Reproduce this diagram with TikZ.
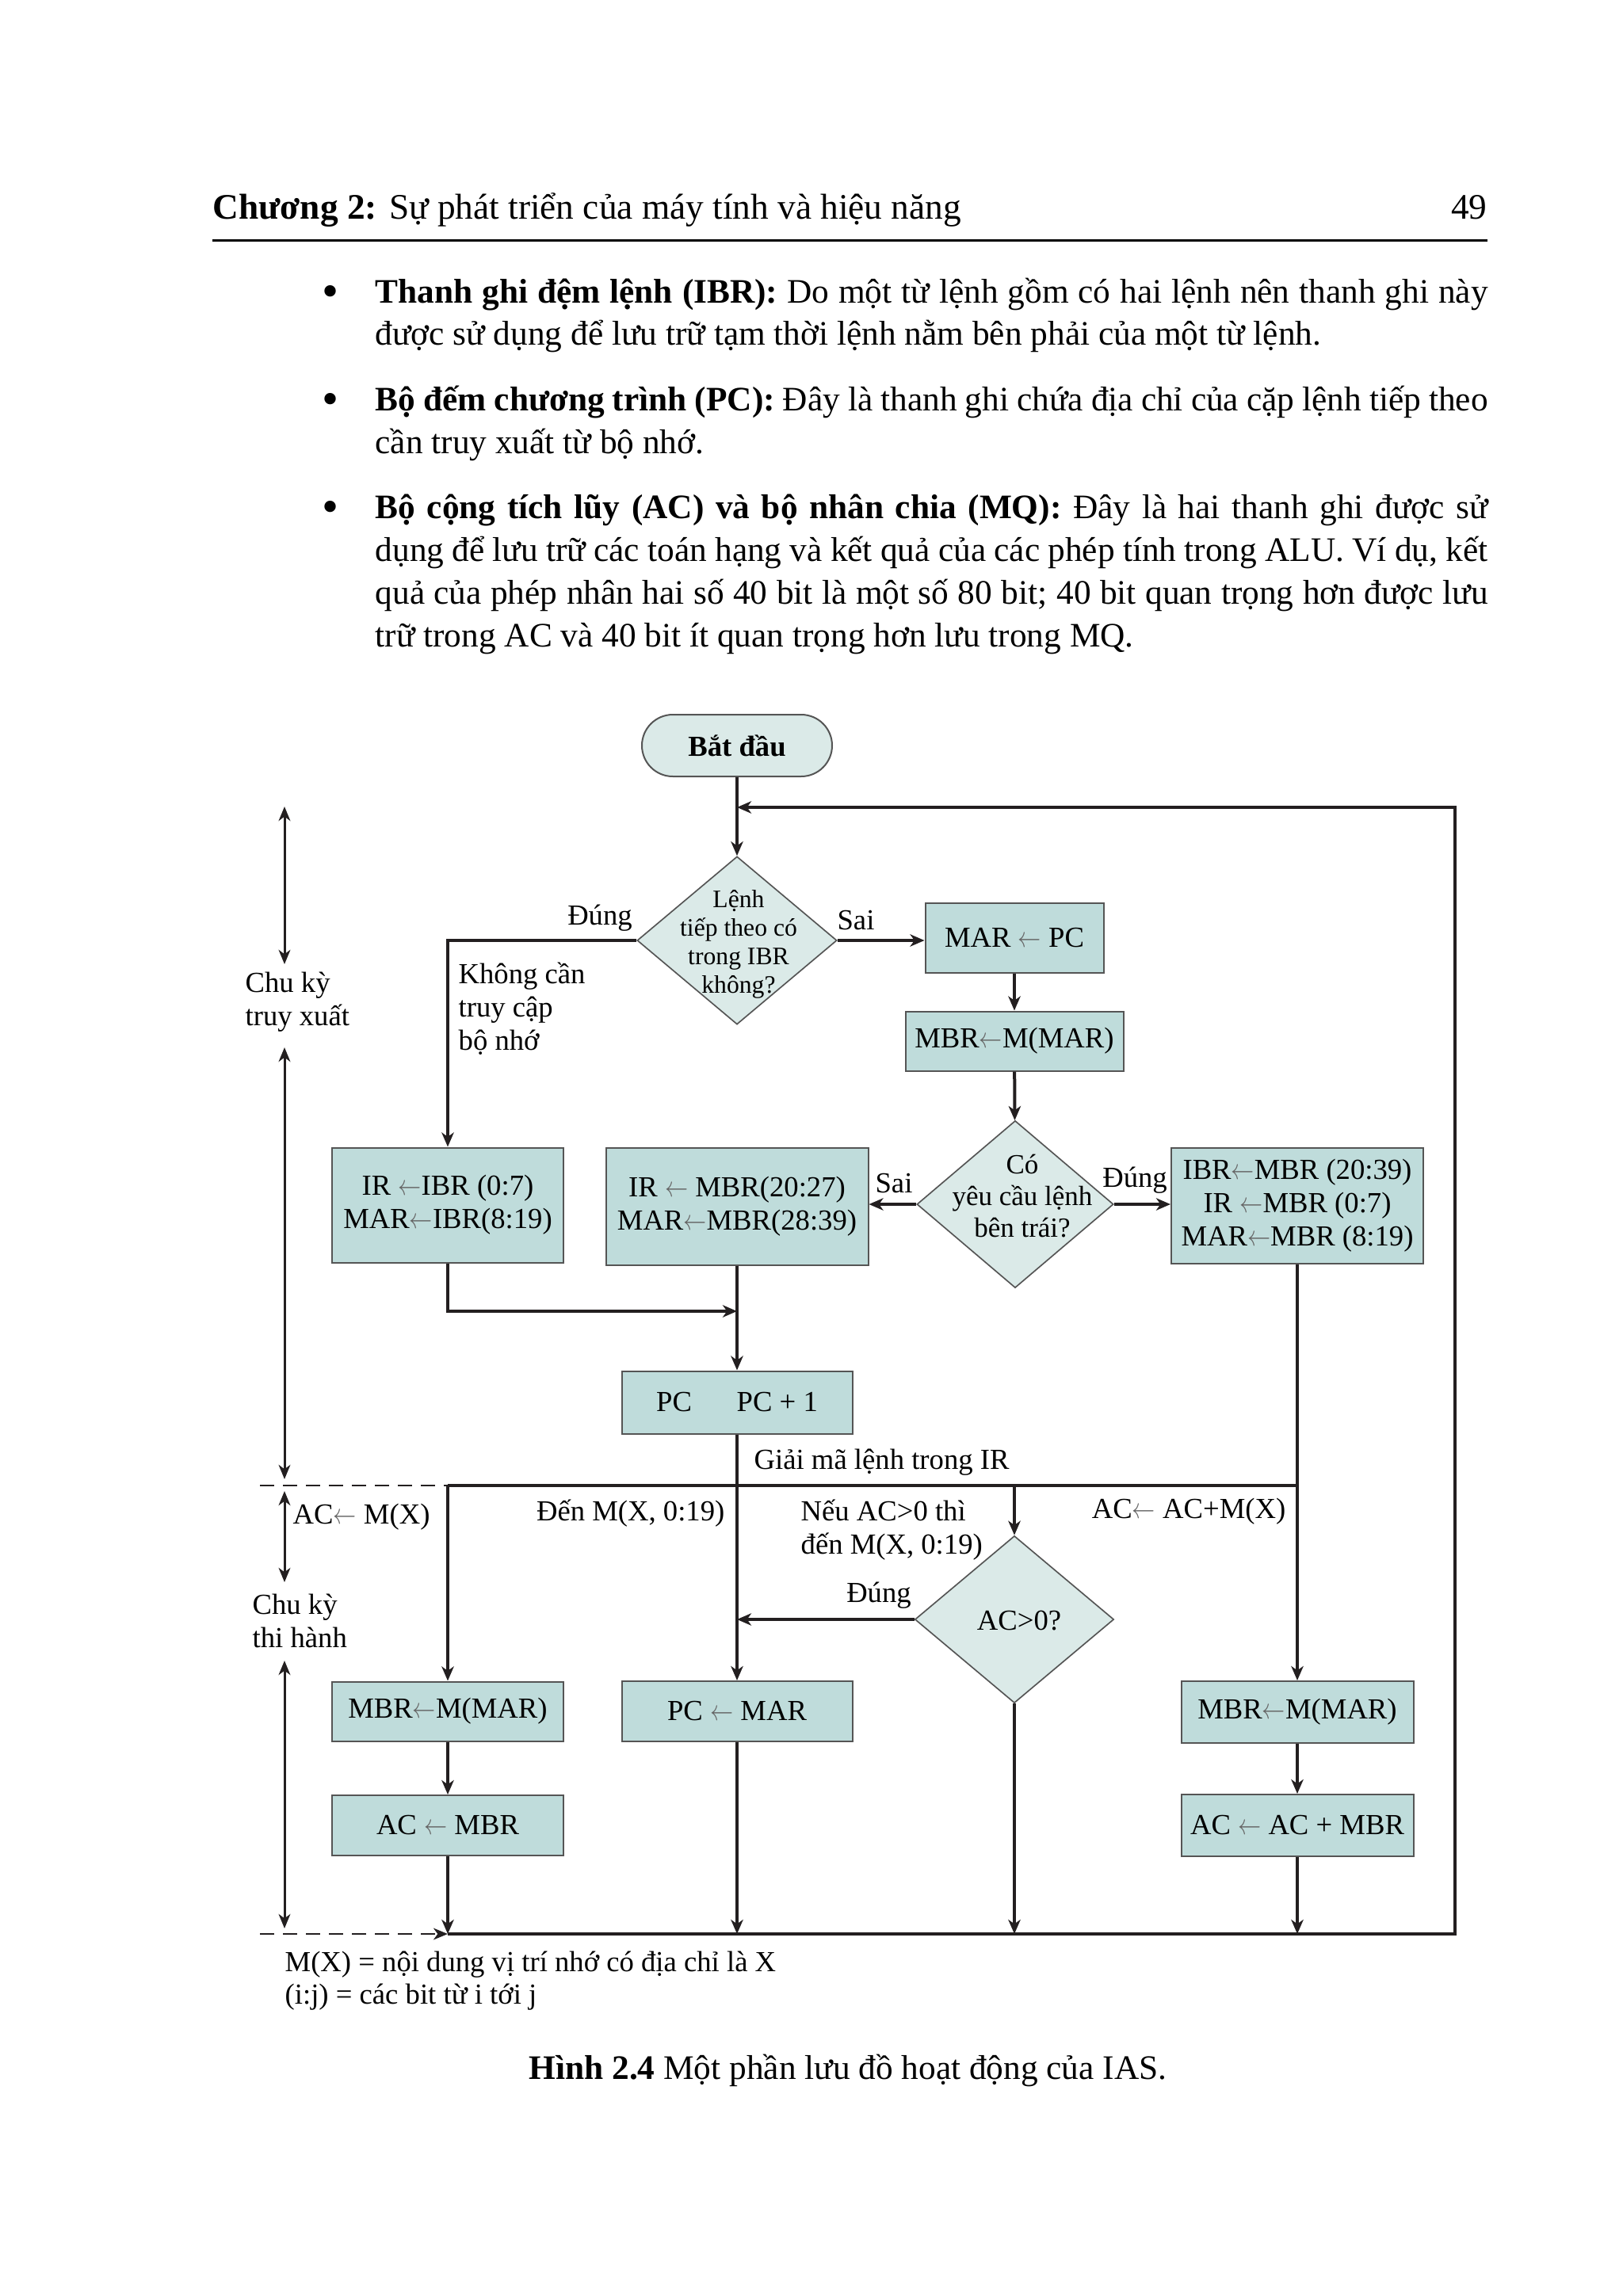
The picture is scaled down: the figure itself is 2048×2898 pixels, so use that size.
\documentclass[tikz,border=0pt]{standalone}
\usepackage{fontspec}
\setmainfont{Liberation Serif}
\usepackage{xcolor}
\usepackage{tikz}
\usetikzlibrary{shapes.geometric,arrows.meta}
\definecolor{boxfill}{RGB}{191,220,219}
\definecolor{diafill}{RGB}{219,234,232}
\definecolor{edge}{RGB}{85,85,85}
\definecolor{ink}{RGB}{35,31,32}
\newcommand{\larr}{{\color{black!60}\scalebox{0.8}[1]{$\leftarrow$}}}

\begin{document}
\begin{tikzpicture}[x=0.3pt,y=-0.3pt,
		txt/.style={font=\fontsize{11}{12.6}\selectfont, inner sep=0pt},
		blk/.style={draw=edge, line width=0.6pt, fill=boxfill, font=\fontsize{11}{12.6}\selectfont, align=center, inner sep=0pt},
		dia/.style={diamond, draw=edge, line width=0.5pt, fill=diafill, inner sep=0pt},
		arr/.style={ink, line width=1.2pt, -{Stealth[length=5.4pt,width=4.6pt,inset=1.6pt]}},
		ln/.style={ink, line width=1.2pt},
		cyc/.style={ink, line width=0.9pt, {Stealth[length=5.4pt,width=4.4pt,inset=1.6pt]}-{Stealth[length=5.4pt,width=4.4pt,inset=1.6pt]}},
		dsh/.style={ink, line width=0.7pt, dash pattern=on 5.4pt off 3.3pt},
		body/.style={font=\fontsize{13}{16.2}\selectfont, inner sep=0pt, anchor=base west},
		dot/.style={font=\fontsize{18}{18}\selectfont, inner sep=0pt}]
		\useasboundingbox (0,0) rectangle (2048,2898);
		
		\node[body, font=\fontsize{13.6}{16.2}\selectfont] (hd) at (268,277) {\textbf{Chương 2:} Sự phát triển của máy tính và hiệu năng};
		\node[body, anchor=base east, font=\fontsize{13.6}{16.2}\selectfont] (pg) at (1877,277) {49};
		\draw[line width=0.9pt] (268,303) -- (1877,303);
		
		\node[dot] (b1) at (417,374) {\textbullet};
		\node[body, text width=421.2pt, align=justify] (p1) at (473,382) {\textbf{Thanh ghi đệm lệnh (IBR):} Do một từ lệnh gồm có hai lệnh nên thanh ghi này\linebreak được sử dụng để lưu trữ tạm thời lệnh nằm bên phải của một từ lệnh.};
		\node[dot] (b2) at (417,510) {\textbullet};
		\node[body, text width=421.2pt, align=justify] (p2) at (473,518) {\textbf{Bộ đếm chương trình (PC):} Đây là thanh ghi chứa địa chỉ của cặp lệnh tiếp theo\linebreak cần truy xuất từ bộ nhớ.};
		\node[dot] (b3) at (417,646) {\textbullet};
		\node[body, text width=421.2pt, align=justify] (p3) at (473,654) {\textbf{Bộ cộng tích lũy (AC) và bộ nhân chia (MQ):} Đây là hai thanh ghi được sử\linebreak dụng để lưu trữ các toán hạng và kết quả của các phép tính trong ALU. Ví dụ, kết\linebreak quả của phép nhân hai số 40 bit là một số 80 bit; 40 bit quan trọng hơn được lưu\linebreak trữ trong AC và 40 bit ít quan trọng hơn lưu trong MQ.};
		
		\node[blk, rounded corners=11.7pt, fill=diafill, minimum width=72pt, minimum height=23.4pt, font=\bfseries\fontsize{11}{12.6}\selectfont] (start) at (930,941) {Bắt đầu};
		\node[dia, minimum width=75.6pt, minimum height=63.6pt] (d1) at (930,1187) {};
		\node[txt, font=\fontsize{9.5}{10.8}\selectfont, align=center] (d1t) at (932,1192) {Lệnh\\tiếp theo có\\trong IBR\\không?};
		\node[blk, minimum width=67.5pt, minimum height=26.4pt] (mar) at (1280,1184) {MAR \larr{} PC};
		\node[blk, minimum width=82.5pt, minimum height=22.5pt] (mbra) at (1280,1314) {MBR\larr M(MAR)};
		\node[dia, minimum width=74.4pt, minimum height=63.3pt] (d2) at (1281,1520) {};
		\node[txt, font=\fontsize{10.5}{12}\selectfont, align=center] (d2t) at (1290,1510) {Có\\yêu cầu lệnh\\bên trái?};
		\node[blk, minimum width=87.6pt, minimum height=43.5pt] (iri) at (565,1521) {IR \larr IBR (0:7)\\MAR\larr IBR(8:19)};
		\node[blk, minimum width=99.3pt, minimum height=44.4pt] (irm) at (930,1523) {IR \larr{} MBR(20:27)\\MAR\larr MBR(28:39)};
		\node[blk, minimum width=95.4pt, minimum height=43.8pt] (ibr) at (1637,1522) {IBR\larr MBR (20:39)\\IR \larr MBR (0:7)\\MAR\larr MBR (8:19)};
		\node[blk, minimum width=87.3pt, minimum height=23.7pt] (pc) at (930,1770) {PC\hspace{17pt}PC + 1};
		\node[dia, minimum width=75.3pt, minimum height=63.3pt] (d3) at (1280,2044) {};
		\node[txt] (d3t) at (1286,2046) {AC>0?};
		\node[blk, minimum width=87.6pt, minimum height=22.5pt] (mbrb) at (565,2160) {MBR\larr M(MAR)};
		\node[blk, minimum width=87.6pt, minimum height=22.8pt] (acb) at (565,2304) {AC \larr{} MBR};
		\node[blk, minimum width=87.3pt, minimum height=22.8pt] (pcm) at (930,2160) {PC \larr{} MAR};
		\node[blk, minimum width=87.9pt, minimum height=23.4pt] (mbrc) at (1637,2161) {MBR\larr M(MAR)};
		\node[blk, minimum width=87.9pt, minimum height=23.4pt] (acc) at (1637,2304) {AC \larr{} AC + MBR};
		
		\coordinate (top) at (930,1019);
		\coordinate (mrg) at (930,1655);
		\coordinate (dl) at (565,1875);
		\coordinate (dr) at (1637,1875);
		\coordinate (bl) at (565,2441);
		\coordinate (br) at (1836,2441);
		\coordinate (dsa) at (328,1875);
		\coordinate (dsb) at (328,2441);
		\coordinate (fa) at (359,1018);
		\coordinate (fb) at (359,1217);
		\coordinate (fc) at (359,1322);
		\coordinate (fd) at (359,1867);
		\coordinate (ea) at (359,1882);
		\coordinate (eb) at (359,1997);
		\coordinate (ec) at (359,2096);
		\coordinate (ed) at (359,2434);
		
		\draw[arr] (start) -- (d1);
		\draw[arr] (d1.west) -| (iri.north);
		\draw[arr] (d1.east) -- (d1.east -| mar.west);
		\draw[arr] (mar) -- (mbra);
		\draw[arr] (mbra) -- (d2);
		\draw[arr] (d2.west) -- (d2.west -| irm.east);
		\draw[arr] (d2.east) -- (d2.east -| ibr.west);
		\draw[arr] (iri.south) |- (mrg);
		\draw[arr] (irm) -- (pc);
		\draw[arr] (pc) -- (pcm);
		\draw[ln] (dl) -- (dr);
		\draw[arr] (ibr) -- (mbrc);
		\draw[arr] (dl) -- (mbrb);
		\draw[arr] (d3.north |- dr) -- (d3.north);
		\draw[arr] (d3.west) -- (d3.west -| pcm.north);
		\draw[arr] (mbrb) -- (acb);
		\draw[arr] (mbrc) -- (acc);
		\draw[arr] (acb) -- (bl);
		\draw[arr] (pcm) -- (pcm |- bl);
		\draw[arr] (d3) -- (d3 |- bl);
		\draw[arr] (acc) -- (acc |- bl);
		\draw[arr] (bl) -- (br) |- (top);
		\draw[dsh] (dsa) -- (dl);
		\draw[dsh, -{Stealth[length=5.4pt,width=4.4pt,inset=1.6pt]}] (dsb) -- (bl);
		\draw[cyc] (fa) -- (fb);
		\draw[cyc] (fc) -- (fd);
		\draw[cyc] (ea) -- (eb);
		\draw[cyc] (ec) -- (ed);
		
		\node[txt] (yes1) at (757,1159) {Đúng};
		\node[txt] (no1) at (1080,1162) {Sai};
		\node[txt, align=left, anchor=west] (nomem) at (578,1273) {Không cần\\truy cập\\bộ nhớ};
		\node[txt, align=left, anchor=west] (fetch) at (309,1265) {Chu kỳ\\truy xuất};
		\node[txt] (no2) at (1128,1494) {Sai};
		\node[txt] (yes2) at (1432,1490) {Đúng};
		\node[txt, anchor=west] (dec) at (951,1846) {Giải mã lệnh trong IR};
		\node[txt, anchor=west] (ldx) at (369,1915) {AC\larr{} M(X)};
		\node[txt, align=left, anchor=west] (exec) at (318,2046) {Chu kỳ\\thi hành};
		\node[txt, anchor=east] (jmp) at (915,1910) {Đến M(X, 0:19)};
		\node[txt, align=left, anchor=west] (cjmp) at (1010,1931) {Nếu AC>0 thì\\đến M(X, 0:19)};
		\node[txt] (yes3) at (1109,2014) {Đúng};
		\node[txt, anchor=east] (addx) at (1623,1908) {AC\larr{} AC+M(X)};
		\node[txt, anchor=west] (note1) at (359,2480) {M(X) = nội dung vị trí nhớ có địa chỉ là X};
		\node[txt, anchor=west] (note2) at (359,2521) {(i:j) = các bit từ i tới j};
		\node[font=\fontsize{13}{16}\selectfont, inner sep=0pt] (cap) at (1070,2613) {\textbf{Hình 2.4} Một phần lưu đồ hoạt động của IAS.};
		
	\end{tikzpicture}
\end{document}
